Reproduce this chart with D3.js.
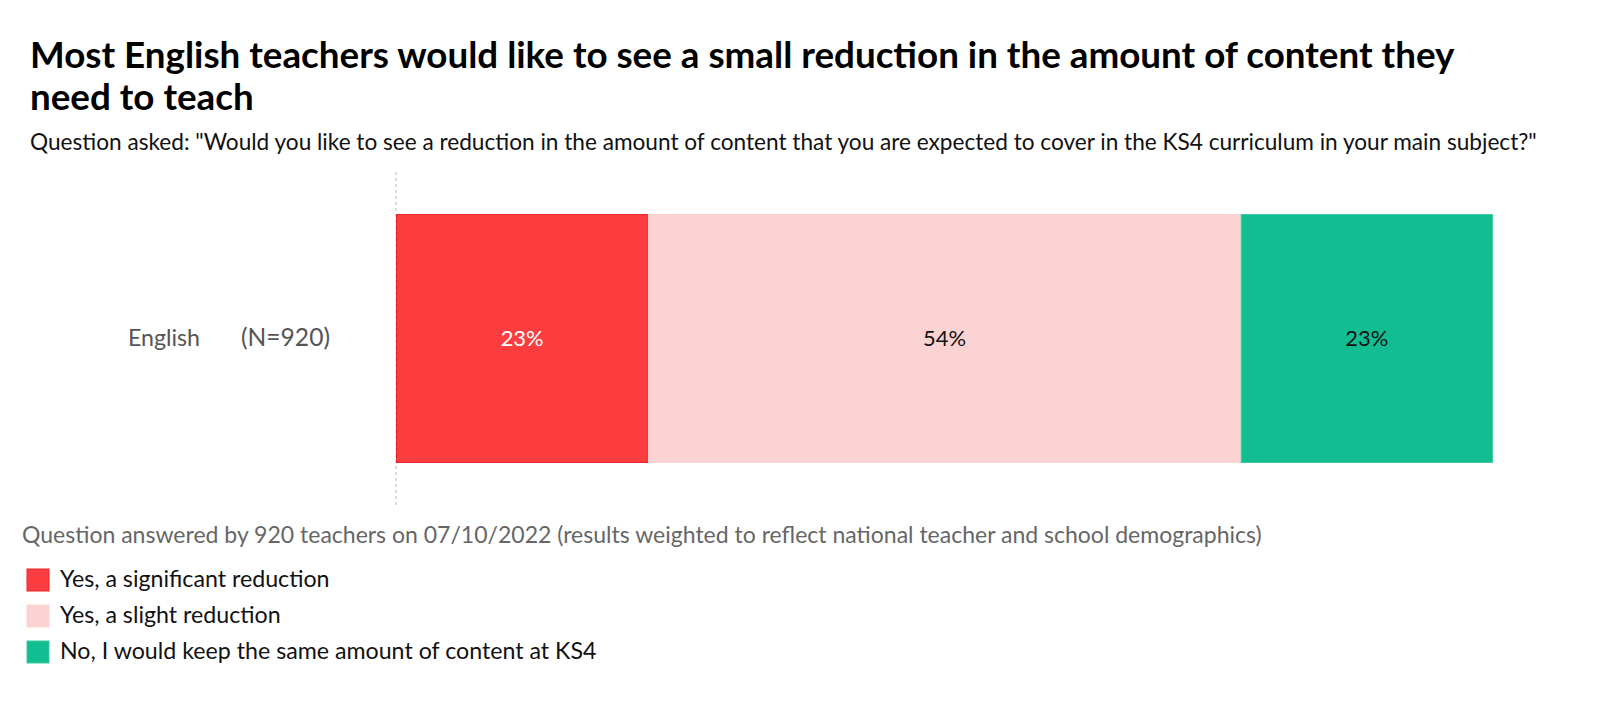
<!DOCTYPE html>
<html><head><meta charset="utf-8">
<script src="https://cdn.jsdelivr.net/npm/d3@7"></script>
<style>body{margin:0;background:#fff}svg{display:block}text{font-family:Lato,"Open Sans",sans-serif}</style>
</head><body><svg id="c" width="1600" height="711"></svg>
<script>
const categories = ["English"];
const sampleSizes = ["(N=920)"];
const seriesNames = ["Yes, a significant reduction", "Yes, a slight reduction", "No, I would keep the same amount of content at KS4"];
const seriesColors = ["#FC3D40", "#FBD3D2", "#12BE91"];
const seriesStroke = ["#E8262A", "#FBD3D2", "#3FCBA5"];
const labelColors = ["#ffffff", "#111111", "#111111"];
const valuesEnglish = [23, 54, 23];
const titleLines = ["Most English teachers would like to see a small reduction in the amount of content they", "need to teach"];
const subtitle = "Question asked: \"Would you like to see a reduction in the amount of content that you are expected to cover in the KS4 curriculum in your main subject?\"";
const footnote = "Question answered by 920 teachers on 07/10/2022 (results weighted to reflect national teacher and school demographics)";

const svg = d3.select("#c");
function fit(sel, w){ const n=sel.node(); const cur=n.getComputedTextLength(); const fs=parseFloat(sel.attr("font-size")); sel.attr("font-size", fs*w/cur); return sel; }

const t1 = svg.append("text").attr("x",30).attr("y",68).attr("font-size",32).attr("font-weight",700).attr("fill","#000").text(titleLines[0]);
fit(t1, 1425);
const fsT = t1.attr("font-size");
svg.append("text").attr("x",30).attr("y",110).attr("font-size",fsT).attr("font-weight",700).attr("fill","#000").text(titleLines[1]);
fit(svg.append("text").attr("x",30).attr("y",150).attr("font-size",19).attr("fill","#111").text(subtitle), 1507);

const x = d3.scaleLinear().domain([0,100]).range([396,1493]);
const y = d3.scaleBand().domain(categories).range([214,463]).padding(0);

svg.append("line").attr("x1",x(0)).attr("x2",x(0)).attr("y1",172).attr("y2",505)
  .attr("stroke","#bbb").attr("stroke-width",1).attr("stroke-dasharray","3,3");

const stacked = [];
let acc = 0;
valuesEnglish.forEach((v,i)=>{ stacked.push({cat:"English", i, v, x0:acc, x1:acc+v}); acc+=v; });

const g = svg.append("g");
g.selectAll("rect").data(stacked).join("rect")
  .attr("x",d=>x(d.x0)+0.5).attr("width",d=>x(d.x1)-x(d.x0)-1)
  .attr("y",d=>y(d.cat)+0.5).attr("height",y.bandwidth()-1)
  .attr("fill",d=>seriesColors[d.i]).attr("stroke",d=>seriesStroke[d.i]).attr("stroke-width",1);
const vt = g.selectAll("text.v").data(stacked).join("text").attr("class","v")
  .attr("x",d=>(x(d.x0)+x(d.x1))/2).attr("y",d=>y(d.cat)+y.bandwidth()/2+7)
  .attr("text-anchor","middle").attr("font-size",19).attr("fill",d=>labelColors[d.i]).text(d=>d.v+"%");
const fsV = 19*43/vt.nodes()[1].getComputedTextLength();
vt.attr("font-size",fsV);

categories.forEach((c,k)=>{
  const cy = y(c)+y.bandwidth()/2+7;
  fit(svg.append("text").attr("x",128).attr("y",cy).attr("font-size",19).attr("fill","#555").text(c), 72);
  fit(svg.append("text").attr("x",241).attr("y",cy).attr("font-size",19).attr("fill","#555").text(sampleSizes[k]), 89);
});

fit(svg.append("text").attr("x",22).attr("y",543).attr("font-size",19).attr("fill","#666").text(footnote), 1240);

const leg = svg.append("g").selectAll("g").data(seriesNames).join("g")
  .attr("transform",(d,i)=>`translate(27,${569+i*36})`);
leg.append("rect").attr("width",22).attr("height",22).attr("fill",(d,i)=>seriesColors[i]).attr("stroke",(d,i)=>seriesStroke[i]);
const lt = leg.append("text").attr("x",33).attr("y",18).attr("font-size",19).attr("fill","#111").text(d=>d);
const fsL = 19*537/lt.nodes()[2].getComputedTextLength();
lt.attr("font-size",fsL);
</script></body></html>
